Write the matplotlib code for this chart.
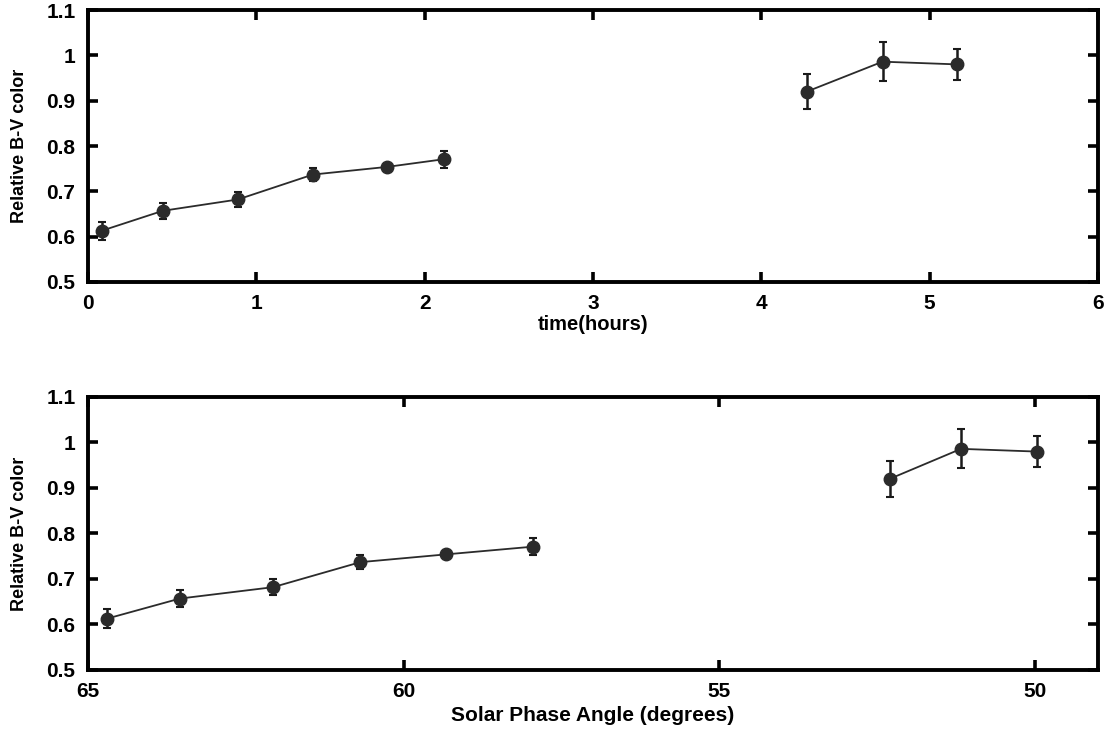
import matplotlib
matplotlib.use("Agg")
import matplotlib.pyplot as plt

# B-V colour measurements
time_hours = [0.081, 0.444, 0.890, 1.336, 1.779, 2.117, 4.27, 4.72, 5.165]
phase_angle = [64.695, 63.544, 62.068, 60.685, 59.335, 57.954, 52.30, 51.17, 49.97]
bv_color = [0.613, 0.657, 0.682, 0.737, 0.754, 0.771, 0.920, 0.986, 0.980]
bv_err = [0.020, 0.018, 0.017, 0.015, 0.006, 0.019, 0.039, 0.043, 0.034]

# gap between the two observing runs
seg1 = slice(0, 6)
seg2 = slice(6, 9)

y_ticks = [0.5, 0.6, 0.7, 0.8, 0.9, 1.0, 1.1]
y_ticklabels = ["0.5", "0.6", "0.7", "0.8", "0.9", "1", "1.1"]
time_ticks = [0, 1, 2, 3, 4, 5, 6]
angle_ticks = [65, 60, 55, 50]

plt.rcParams['font.family'] = ['Liberation Sans', 'DejaVu Sans']
plt.rcParams['font.weight'] = 'bold'

fig = plt.figure(figsize=(11.08, 7.30), dpi=100)
ax1 = fig.add_axes([0.0794, 0.6137, 0.9116, 0.3726])
ax2 = fig.add_axes([0.0794, 0.0822, 0.9116, 0.3740])

mcol = '#2b2b2b'


def draw(ax, xs):
    for seg in (seg1, seg2):
        ax.errorbar(xs[seg], bv_color[seg], yerr=bv_err[seg], fmt='o-',
                    color=mcol, ecolor='#1a1a1a', mfc=mcol, mec=mcol,
                    ms=9, lw=1.3, elinewidth=1.8, capsize=3, capthick=1.5)
    ax.set_ylim(0.5, 1.1)
    ax.set_yticks(y_ticks)
    ax.set_yticklabels(y_ticklabels)
    ax.set_ylabel('Relative B-V color', fontsize=13, fontweight='bold',
                  labelpad=13)
    for s in ax.spines.values():
        s.set_linewidth(2.8)
    ax.tick_params(direction='in', length=7, width=2.6, top=True, right=True,
                   labelsize=15)
    ax.tick_params(axis='y', pad=9)
    ax.tick_params(axis='x', pad=9)
    for lab in ax.get_xticklabels() + ax.get_yticklabels():
        lab.set_fontweight('bold')


draw(ax1, time_hours)
ax1.set_xlim(0, 6)
ax1.set_xticks(time_ticks)
ax1.set_xticklabels([str(t) for t in time_ticks], fontweight='bold')
ax1.set_xlabel('time(hours)', fontsize=14.5, fontweight='bold', labelpad=1)

draw(ax2, phase_angle)
ax2.set_xlim(65, 49)
ax2.set_xticks(angle_ticks)
ax2.set_xticklabels([str(t) for t in angle_ticks], fontweight='bold')
ax2.set_xlabel('Solar Phase Angle (degrees)', fontsize=15, fontweight='bold',
               labelpad=3)

fig.savefig('out.png', dpi=100)
